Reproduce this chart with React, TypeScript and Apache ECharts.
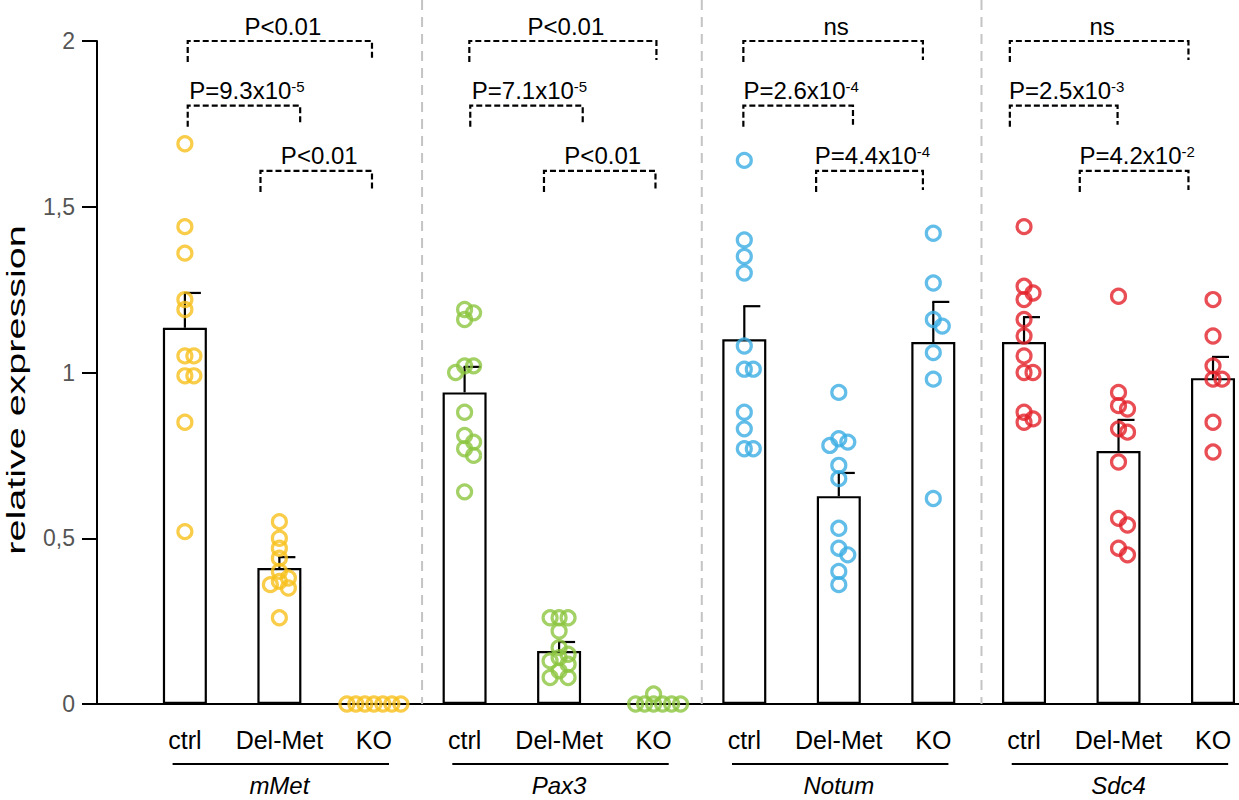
import React, { useEffect, useRef } from 'react';
import * as echarts from 'echarts';

const FONT = '"Liberation Sans", Arial, sans-serif';

const GENES = ['mMet', 'Pax3', 'Notum', 'Sdc4'];
const CONDITIONS = ['ctrl', 'Del-Met', 'KO'];
const COLORS = ['#F8C11C', '#8CC540', '#3BAEE3', '#E4222B'];

// individual measurements per gene: ctrl / Del-Met / KO
const MMET_CTRL = [1.69, 1.44, 1.36, 1.22, 1.19, 1.05, 1.05, 0.99, 0.99, 0.85, 0.52];
const MMET_DEL = [0.55, 0.5, 0.47, 0.44, 0.4, 0.38, 0.37, 0.36, 0.35, 0.26];
const MMET_KO = [0, 0, 0, 0, 0, 0, 0];
const PAX3_CTRL = [1.19, 1.18, 1.16, 1.02, 1.02, 1.0, 0.88, 0.81, 0.79, 0.77, 0.75, 0.64];
const PAX3_DEL = [0.26, 0.26, 0.26, 0.22, 0.17, 0.15, 0.14, 0.13, 0.12, 0.1, 0.08, 0.08];
const PAX3_KO = [0.03, 0, 0, 0, 0, 0, 0];
const NOTUM_CTRL = [1.64, 1.4, 1.35, 1.3, 1.08, 1.01, 1.01, 0.88, 0.83, 0.77, 0.77];
const NOTUM_DEL = [0.94, 0.8, 0.79, 0.78, 0.72, 0.68, 0.53, 0.47, 0.45, 0.4, 0.36];
const NOTUM_KO = [1.42, 1.27, 1.16, 1.14, 1.06, 0.98, 0.62];
const SDC4_CTRL = [1.44, 1.26, 1.24, 1.22, 1.16, 1.11, 1.05, 1.0, 1.0, 0.88, 0.86, 0.85];
const SDC4_DEL = [1.23, 0.94, 0.9, 0.89, 0.83, 0.82, 0.73, 0.56, 0.54, 0.47, 0.45];
const SDC4_KO = [1.22, 1.11, 1.02, 0.98, 0.98, 0.85, 0.76];

// bar heights (mean) and error (SEM)
const MEANS_MMET = [1.135, 0.41, 0];
const MEANS_PAX3 = [0.94, 0.16, 0];
const MEANS_NOTUM = [1.1, 0.627, 1.092];
const MEANS_SDC4 = [1.092, 0.763, 0.983];
const SEM_MMET = [0.105, 0.033, 0];
const SEM_PAX3 = [0.077, 0.027, 0];
const SEM_NOTUM = [0.1, 0.07, 0.121];
const SEM_SDC4 = [0.075, 0.094, 0.064];

const Y_TICKS = [0, 0.5, 1, 1.5, 2];

// significance brackets: level heights, x ends (axis units) and labels
const BRACKET_LEVELS = [2.0, 1.805, 1.608];
const BRACKETS_MMET = [[0.03, 1.98], [0.03, 1.22], [0.8, 1.98]];
const BRACKETS_PAX3 = [[3.01, 4.99], [3.02, 4.21], [3.8, 4.98]];
const BRACKETS_NOTUM = [[5.91, 7.81], [5.91, 7.07], [6.68, 7.81]];
const BRACKETS_SDC4 = [[8.73, 10.62], [8.73, 9.87], [9.47, 10.62]];
const LABELS_MMET = ['P<0.01', 'P=9.3x10^-5', 'P<0.01'];
const LABELS_PAX3 = ['P<0.01', 'P=7.1x10^-5', 'P<0.01'];
const LABELS_NOTUM = ['ns', 'P=2.6x10^-4', 'P=4.4x10^-4'];
const LABELS_SDC4 = ['ns', 'P=2.5x10^-3', 'P=4.2x10^-2'];

const POINTS = [
  [MMET_CTRL, MMET_DEL, MMET_KO],
  [PAX3_CTRL, PAX3_DEL, PAX3_KO],
  [NOTUM_CTRL, NOTUM_DEL, NOTUM_KO],
  [SDC4_CTRL, SDC4_DEL, SDC4_KO],
];
const MEANS = [MEANS_MMET, MEANS_PAX3, MEANS_NOTUM, MEANS_SDC4];
const SEMS = [SEM_MMET, SEM_PAX3, SEM_NOTUM, SEM_SDC4];
const BRACKETS = [BRACKETS_MMET, BRACKETS_PAX3, BRACKETS_NOTUM, BRACKETS_SDC4];
const LABELS = [LABELS_MMET, LABELS_PAX3, LABELS_NOTUM, LABELS_SDC4];

const GROUP_STEP = 2.96;
const X_MIN = -0.93;
const X_MAX = 11.155;
const GRID = { left: 97, right: 0, top: 41, bottom: 96 };
const W = 1239;
const H = 800;
const X_PX = (W - GRID.left - GRID.right) / (X_MAX - X_MIN);
const Y_PX = (H - GRID.top - GRID.bottom) / 2;

const pos = (g: number, c: number) => g * GROUP_STEP + c;

// simple beeswarm so overlapping circles sit side by side
const swarm = (values: number[], center: number) => {
  const minD = 9;
  const step = 4.5;
  const placed: number[][] = [];
  return values.map((v) => {
    const py = v * Y_PX;
    for (let k = 0; k < 40; k++) {
      const n = Math.ceil(k / 2) * (k % 2 === 1 ? 1 : -1);
      const off = n * step;
      if (placed.every(([px, qy]) => Math.hypot(px - off, qy - py) >= minD)) {
        placed.push([off, py]);
        return [center + off / X_PX, v];
      }
    }
    return [center, v];
  });
};

const richLabel = (label: string) => {
  const [main, sup] = label.split('^');
  return sup ? `{m|${main}}{s|${sup}}` : `{m|${main}}`;
};

const App = () => {
  const chartRef = useRef<HTMLDivElement>(null);

  useEffect(() => {
    if (!chartRef.current) return;
    const chart = echarts.init(chartRef.current, undefined, { renderer: 'svg' });

    const barData: number[][] = [];
    const errData: number[][] = [];
    GENES.forEach((_, g) =>
      CONDITIONS.forEach((__, c) => {
        barData.push([pos(g, c), MEANS[g][c]]);
        if (SEMS[g][c] > 0) errData.push([pos(g, c), MEANS[g][c], MEANS[g][c] + SEMS[g][c]]);
      })
    );

    const bracketData: (number | string)[][] = [];
    GENES.forEach((_, g) =>
      BRACKET_LEVELS.forEach((lv, i) => {
        bracketData.push([BRACKETS[g][i][0], BRACKETS[g][i][1], lv, LABELS[g][i]]);
      })
    );

    const separators = GENES.slice(1).map((_, g) => [(pos(g, 2) + pos(g + 1, 0)) / 2 + 0.03]);

    const scatterSeries = GENES.map((gene, g) => ({
      type: 'scatter',
      name: gene,
      z: 5,
      symbol: 'circle',
      symbolSize: 14,
      itemStyle: { color: 'rgba(255,255,255,0)', borderColor: COLORS[g], borderWidth: 3.2 },
      data: CONDITIONS.flatMap((_, c) => swarm(POINTS[g][c], pos(g, c))),
    }));

    const option: any = {
      animation: false,
      textStyle: { fontFamily: FONT },
      grid: { ...GRID },
      xAxis: {
        type: 'value',
        min: X_MIN,
        max: X_MAX,
        axisLine: { show: true, onZero: false, lineStyle: { color: '#000', width: 2 } },
        axisTick: { show: false },
        axisLabel: { show: false },
        splitLine: { show: false },
      },
      yAxis: {
        type: 'value',
        min: Y_TICKS[0],
        max: Y_TICKS[Y_TICKS.length - 1],
        interval: 0.5,
        axisLine: { show: true, onZero: false, lineStyle: { color: '#000', width: 2 } },
        axisTick: { show: true, length: 15, lineStyle: { color: '#000', width: 2 } },
        axisLabel: {
          color: '#555',
          fontSize: 23,
          fontFamily: FONT,
          margin: 22,
          formatter: (v: number) => String(v).replace('.', ','),
        },
        splitLine: { show: false },
      },
      graphic: [
        {
          type: 'text',
          x: 16,
          y: 390,
          rotation: Math.PI / 2,
          scaleX: 1.58,
          style: {
            text: 'relative expression',
            fontSize: 25,
            fontFamily: FONT,
            fill: '#000',
            align: 'center',
            verticalAlign: 'middle',
          },
        },
      ],
      series: [
        {
          type: 'custom',
          z: 1,
          data: separators,
          renderItem: (_p: any, api: any) => {
            const p = api.coord([api.value(0), 0]);
            return {
              type: 'line',
              shape: { x1: p[0], y1: 0, x2: p[0], y2: p[1] },
              style: { stroke: '#C4C4C4', lineWidth: 2, lineDash: [10, 7] },
            };
          },
        },
        {
          type: 'bar',
          z: 2,
          barWidth: 44,
          itemStyle: { color: '#fff', borderColor: '#000', borderWidth: 2.2 },
          data: barData,
        },
        {
          type: 'custom',
          z: 3,
          data: errData,
          renderItem: (_p: any, api: any) => {
            const a = api.coord([api.value(0), api.value(1)]);
            const b = api.coord([api.value(0), api.value(2)]);
            const st = { stroke: '#000', lineWidth: 2.2 };
            return {
              type: 'group',
              children: [
                { type: 'line', shape: { x1: a[0], y1: a[1], x2: b[0], y2: b[1] }, style: st },
                { type: 'line', shape: { x1: b[0] - 1, y1: b[1], x2: b[0] + 16, y2: b[1] }, style: st },
              ],
            };
          },
        },
        ...scatterSeries,
        {
          type: 'custom',
          z: 6,
          data: bracketData,
          renderItem: (params: any, api: any) => {
            const item = bracketData[params.dataIndex];
            const a = api.coord([item[0], item[2]]);
            const b = api.coord([item[1], item[2]]);
            return {
              type: 'group',
              children: [
                {
                  type: 'polyline',
                  shape: { points: [[a[0], a[1] + 21], [a[0], a[1]], [b[0], b[1]], [b[0], b[1] + 19]] },
                  style: { stroke: '#000', lineWidth: 2.2, lineDash: [6, 3], fill: null },
                },
                {
                  type: 'text',
                  x: (a[0] + b[0]) / 2 + 3,
                  y: a[1] - 3,
                  style: {
                    text: richLabel(String(item[3])),
                    align: 'center',
                    verticalAlign: 'bottom',
                    fill: '#000',
                    rich: {
                      m: { fontSize: 24, fontFamily: FONT, fill: '#000' },
                      s: { fontSize: 15, fontFamily: FONT, fill: '#000', verticalAlign: 'top' },
                    },
                  },
                },
              ],
            };
          },
        },
        {
          type: 'custom',
          z: 6,
          data: GENES.map((_, g) => [g]),
          renderItem: (params: any, api: any) => {
            const g = params.dataIndex;
            const pts = CONDITIONS.map((_, c) => api.coord([pos(g, c), 0]));
            const left = api.coord([pos(g, 0) - 0.13, 0]);
            const right = api.coord([pos(g, 2) + 0.16, 0]);
            const base = pts[0][1];
            const children: any[] = CONDITIONS.map((cond, c) => ({
              type: 'text',
              x: pts[c][0],
              y: base + 36,
              style: { text: cond, fontSize: 25, fontFamily: FONT, fill: '#000', align: 'center', verticalAlign: 'middle' },
            }));
            children.push({
              type: 'line',
              shape: { x1: left[0], y1: base + 60, x2: right[0], y2: base + 60 },
              style: { stroke: '#000', lineWidth: 2 },
            });
            children.push({
              type: 'text',
              x: (pts[0][0] + pts[2][0]) / 2,
              y: base + 81,
              style: {
                text: GENES[g],
                fontSize: 24,
                fontStyle: 'italic',
                fontFamily: FONT,
                fill: '#000',
                align: 'center',
                verticalAlign: 'middle',
              },
            });
            return { type: 'group', children };
          },
        },
      ],
    };

    chart.setOption(option);
    return () => chart.dispose();
  }, []);

  return (
    <div
      ref={chartRef}
      style={{ position: 'fixed', left: 0, top: 0, width: `${W}px`, height: `${H}px`, background: '#fff' }}
    />
  );
};

export default App;
